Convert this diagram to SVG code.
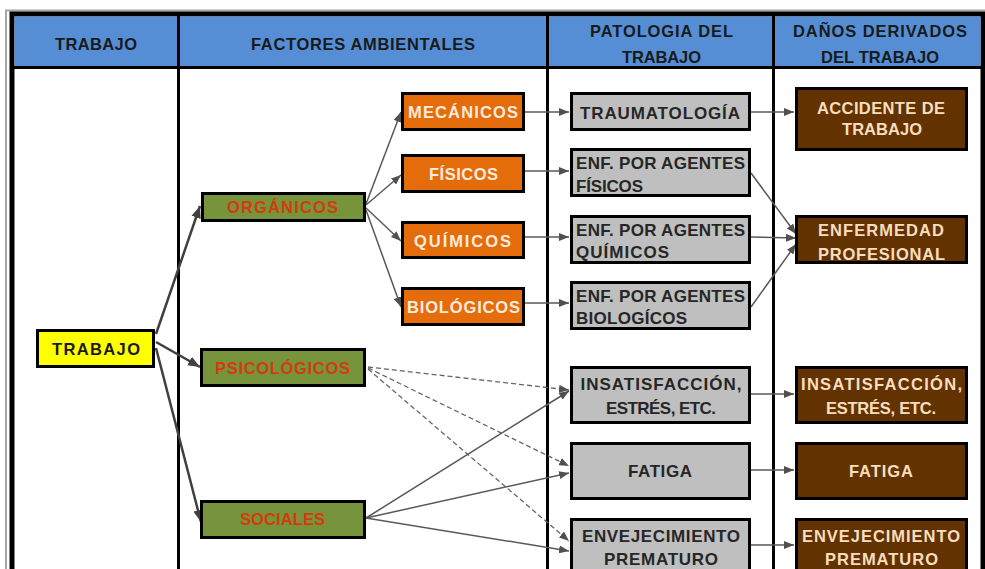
<svg xmlns="http://www.w3.org/2000/svg" width="985" height="569" viewBox="0 0 985 569">
<style>
text{font-family:"Liberation Sans",Arial,sans-serif;font-weight:bold;}
.hd{font-size:16.5px;fill:#1a1a1a;text-anchor:middle;}
.box{stroke:#000;stroke-width:3;}
.yel{fill:#FFFF00;}
.grn{fill:#77933C;}
.org{fill:#E46C0A;}
.gry{fill:#BFBFBF;}
.brn{fill:#623200;}
.tk{font-size:16.5px;fill:#1a1a1a;text-anchor:middle;}
.tg{font-size:16.5px;fill:#D23C0C;text-anchor:middle;}
.to{font-size:16.5px;fill:#FDEBDD;text-anchor:middle;}
.tr{font-size:17px;fill:#262626;}
.tm{text-anchor:middle;}
.tb{font-size:16.5px;fill:#F9DEBE;text-anchor:middle;}
.c{fill:none;stroke:#595959;stroke-width:1.5;}
.ct{fill:none;stroke:#404040;stroke-width:2.5;}
.cd{fill:none;stroke:#666;stroke-width:1.3;stroke-dasharray:5 3;}
</style>
<defs>
<marker id="a" viewBox="0 0 10 8" refX="10" refY="4" markerWidth="10" markerHeight="8" markerUnits="userSpaceOnUse" orient="auto"><path d="M0,0L10,4L0,8z" fill="#505050"/></marker>
<marker id="ab" viewBox="0 0 10 8" refX="10" refY="4" markerWidth="12" markerHeight="10" markerUnits="userSpaceOnUse" orient="auto"><path d="M0,0L10,4L0,8z" fill="#404040"/></marker>
</defs>
<rect width="985" height="569" fill="#fff"/>
<g id="table">
<path d="M6,569V10.5H985" fill="none" stroke="#A6A6A6" stroke-width="2"/>
<rect x="12" y="14" width="971" height="560" fill="#fff" stroke="#000" stroke-width="5"/>
<rect x="14.5" y="16.5" width="966" height="50.5" fill="#558ED5"/>
<line x1="12" y1="67.5" x2="985" y2="67.5" stroke="#000" stroke-width="3"/>
<line x1="178.5" y1="14" x2="178.5" y2="569" stroke="#000" stroke-width="3"/>
<line x1="547.5" y1="14" x2="547.5" y2="569" stroke="#000" stroke-width="3"/>
<line x1="773.5" y1="14" x2="773.5" y2="569" stroke="#000" stroke-width="3"/>
<text class="hd" x="96" y="50" textLength="82">TRABAJO</text>
<text class="hd" x="363" y="50" textLength="224">FACTORES AMBIENTALES</text>
<text class="hd" x="661.5" y="37" textLength="143">PATOLOGIA DEL</text>
<text class="hd" x="661.5" y="63" textLength="79">TRABAJO</text>
<text class="hd" x="880" y="37" textLength="174">DAÑOS DERIVADOS</text>
<text class="hd" x="880" y="63" textLength="118">DEL TRABAJO</text>
</g>
<g id="connectors">
<path class="ct" d="M156,334L200,206" marker-end="url(#ab)"/>
<path class="ct" d="M156,342L200,367" marker-end="url(#ab)"/>
<path class="ct" d="M156,348L201,522" marker-end="url(#ab)"/>
<path class="c" d="M366,204L401,112" marker-end="url(#a)"/>
<path class="c" d="M366,205L401,175" marker-end="url(#a)"/>
<path class="c" d="M366,208L401,241" marker-end="url(#a)"/>
<path class="c" d="M366,210L401,307" marker-end="url(#a)"/>
<path class="c" d="M525,112L569,112" marker-end="url(#a)"/>
<path class="c" d="M525,171L569,171" marker-end="url(#a)"/>
<path class="c" d="M525,237L569,237" marker-end="url(#a)"/>
<path class="c" d="M525,303L569,303" marker-end="url(#a)"/>
<path class="c" d="M751,112L794,112" marker-end="url(#a)"/>
<path class="c" d="M751,173L796,234" marker-end="url(#a)"/>
<path class="c" d="M751,237L796,238" marker-end="url(#a)"/>
<path class="c" d="M751,307L796,244" marker-end="url(#a)"/>
<path class="cd" d="M368,367L569,390" marker-end="url(#a)"/>
<path class="cd" d="M368,368L569,466" marker-end="url(#a)"/>
<path class="cd" d="M368,369L569,541" marker-end="url(#a)"/>
<path class="c" d="M366,518L569,391" marker-end="url(#a)"/>
<path class="c" d="M366,518L569,473" marker-end="url(#a)"/>
<path class="c" d="M366,518L569,551" marker-end="url(#a)"/>
<path class="c" d="M751,394L794,394" marker-end="url(#a)"/>
<path class="c" d="M751,470L794,470" marker-end="url(#a)"/>
<path class="c" d="M751,545L794,545" marker-end="url(#a)"/>
</g>
<g id="n-trabajo"><rect class="box yel" x="37.5" y="330.5" width="116" height="36"/><text class="tk" x="96" y="355" textLength="88">TRABAJO</text></g>
<g id="n-organicos"><rect class="box grn" x="202.5" y="193.5" width="162" height="27"/><text class="tg" x="282.5" y="212.5" textLength="111">ORGÁNICOS</text></g>
<g id="n-psicologicos"><rect class="box grn" x="201.5" y="349.5" width="163" height="36"/><text class="tg" x="282.5" y="374" textLength="135">PSICOLÓGICOS</text></g>
<g id="n-sociales"><rect class="box grn" x="201.5" y="501.5" width="163" height="36"/><text class="tg" x="282.5" y="525" textLength="85">SOCIALES</text></g>
<g id="n-mecanicos"><rect class="box org" x="402.5" y="93.5" width="121" height="36"/><text class="to" x="463" y="118" textLength="110">MECÁNICOS</text></g>
<g id="n-fisicos"><rect class="box org" x="402.5" y="155.5" width="121" height="36"/><text class="to" x="463.5" y="180" textLength="69">FÍSICOS</text></g>
<g id="n-quimicos"><rect class="box org" x="402.5" y="222.5" width="121" height="35"/><text class="to" x="462.5" y="247" textLength="97">QUÍMICOS</text></g>
<g id="n-biologicos"><rect class="box org" x="402.5" y="288.5" width="121" height="36"/><text class="to" x="463.5" y="313" textLength="113">BIOLÓGICOS</text></g>
<g id="n-traumatologia"><rect class="box gry" x="571.5" y="93.5" width="178" height="36"/><text class="tr tm" x="660" y="119" textLength="160">TRAUMATOLOGÍA</text></g>
<g id="n-enf-fisicos"><rect class="box gry" x="571.5" y="149.5" width="178" height="46"/><text class="tr" x="576" y="169" textLength="169">ENF. POR AGENTES</text><text class="tr" x="576" y="192" textLength="67">FÍSICOS</text></g>
<g id="n-enf-quimicos"><rect class="box gry" x="571.5" y="216.5" width="178" height="46"/><text class="tr" x="576" y="235.5" textLength="169">ENF. POR AGENTES</text><text class="tr" x="576" y="258" textLength="93">QUÍMICOS</text></g>
<g id="n-enf-biologicos"><rect class="box gry" x="571.5" y="282.5" width="178" height="46"/><text class="tr" x="576" y="301.5" textLength="169">ENF. POR AGENTES</text><text class="tr" x="576" y="324" textLength="111">BIOLOGÍCOS</text></g>
<g id="n-accidente"><rect class="box brn" x="796.5" y="88.5" width="170" height="61"/><text class="tb" x="881" y="114" textLength="128">ACCIDENTE DE</text><text class="tb" x="882" y="135" textLength="80">TRABAJO</text></g>
<g id="n-enfermedad"><rect class="box brn" x="796.5" y="216.5" width="170" height="46"/><text class="tb" x="881" y="236" textLength="126">ENFERMEDAD</text><text class="tb" x="881.5" y="260" textLength="127">PROFESIONAL</text></g>
<g id="n-insat-pat"><rect class="box gry" x="571.5" y="367.5" width="178" height="55"/><text class="tr tm" x="661" y="390" textLength="161">INSATISFACCIÓN,</text><text class="tr tm" x="661" y="414" textLength="110">ESTRÉS, ETC.</text></g>
<g id="n-fatiga-pat"><rect class="box gry" x="571.5" y="443.5" width="178" height="55"/><text class="tr tm" x="660" y="477" textLength="64">FATIGA</text></g>
<g id="n-envej-pat"><rect class="box gry" x="571.5" y="519.5" width="178" height="70"/><text class="tr tm" x="661" y="542" textLength="158">ENVEJECIMIENTO</text><text class="tr tm" x="661" y="565" textLength="114">PREMATURO</text></g>
<g id="n-insat-dano"><rect class="box brn" x="796.5" y="367.5" width="170" height="55"/><text class="tb" x="881.5" y="390" textLength="161">INSATISFACCIÓN,</text><text class="tb" x="881" y="414" textLength="110">ESTRÉS, ETC.</text></g>
<g id="n-fatiga-dano"><rect class="box brn" x="796.5" y="443.5" width="170" height="55"/><text class="tb" x="881" y="477" textLength="64">FATIGA</text></g>
<g id="n-envej-dano"><rect class="box brn" x="796.5" y="519.5" width="170" height="70"/><text class="tb" x="881" y="542" textLength="158">ENVEJECIMIENTO</text><text class="tb" x="881.5" y="565" textLength="113">PREMATURO</text></g>
</svg>
